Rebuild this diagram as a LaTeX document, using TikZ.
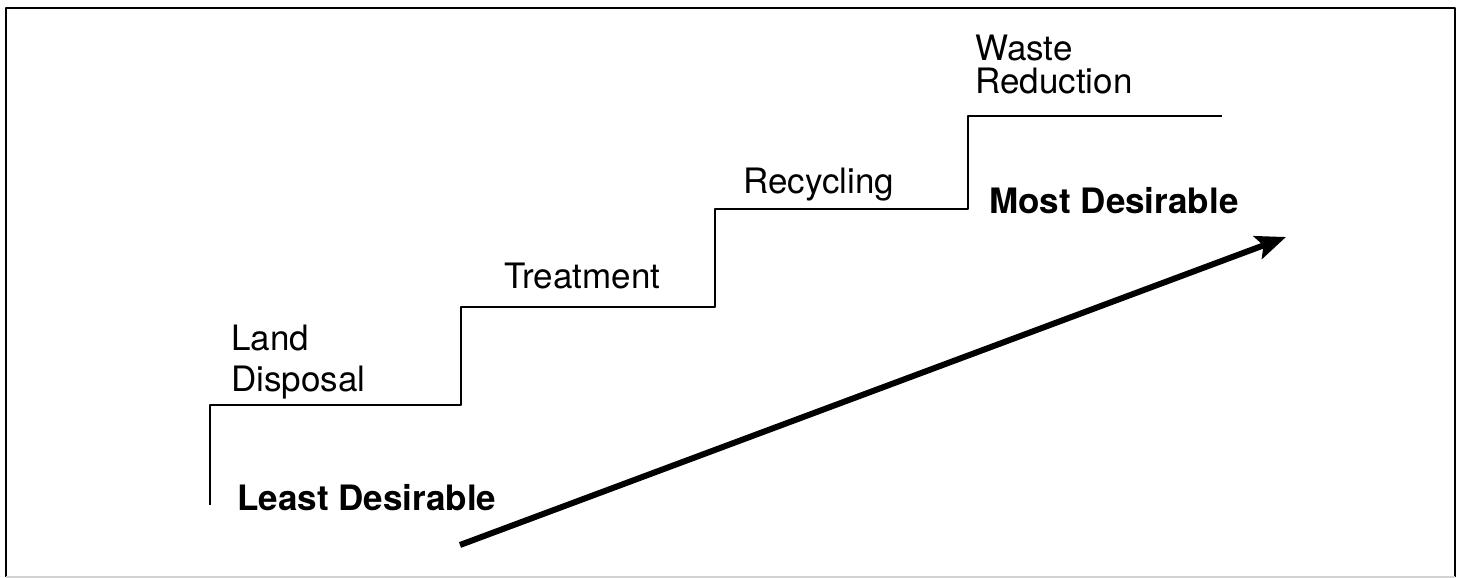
\documentclass[tikz,border=0pt]{standalone}
\usepackage{fontspec}
\setmainfont{TeX Gyre Heros}
\usetikzlibrary{positioning,arrows.meta}

\begin{document}
\begin{tikzpicture}[x=0.5pt, y=0.5pt, font=\fontsize{17.5pt}{16.5pt}\selectfont,
                    c/.style={line width=0.9pt, line join=round},
                    frame/.style={c, line width=0.7pt},
                    stair/.style={c, line width=1pt},
                    rise/.style={line width=3pt, -{Stealth[length=15pt, width=12pt, inset=3pt]}},
                    lbl/.style={anchor=north west, inner sep=0pt, align=left},
                    goal/.style={lbl, font=\fontsize{17.5pt}{16.5pt}\selectfont\bfseries}]
  \useasboundingbox (0,0) rectangle (1457,578);
  % frame
  \draw[frame] (6,1) -- (6,570) -- (1455,570) -- (1455,1);
  \draw[gray!35, line width=0.6pt] (6,1) -- (1455,1);
  % steps
  \draw[stair] (210,73) -- (210,173) -- (461,173) -- (461,271) -- (715,271)
               -- (715,369) -- (968,369) -- (968,462) -- (1222,462);
  \node[lbl] (land)  at (231,253) {Land\\[4pt]Disposal};
  \node[lbl] (treat) at (504,315) {Treatment};
  \node[lbl] (recyc) at (743,410) {Recycling};
  \node[lbl] (waste) at (975,543) {Waste\\Reduction};
  \node[goal] (least) at (237,94) {Least Desirable};
  \node[goal] (most)  at (989,391) {Most Desirable};
  % arrow
  \coordinate (lo) at (460,33);
  \coordinate (hi) at (1286,341);
  \draw[rise] (lo) -- (hi);
\end{tikzpicture}
\end{document}
